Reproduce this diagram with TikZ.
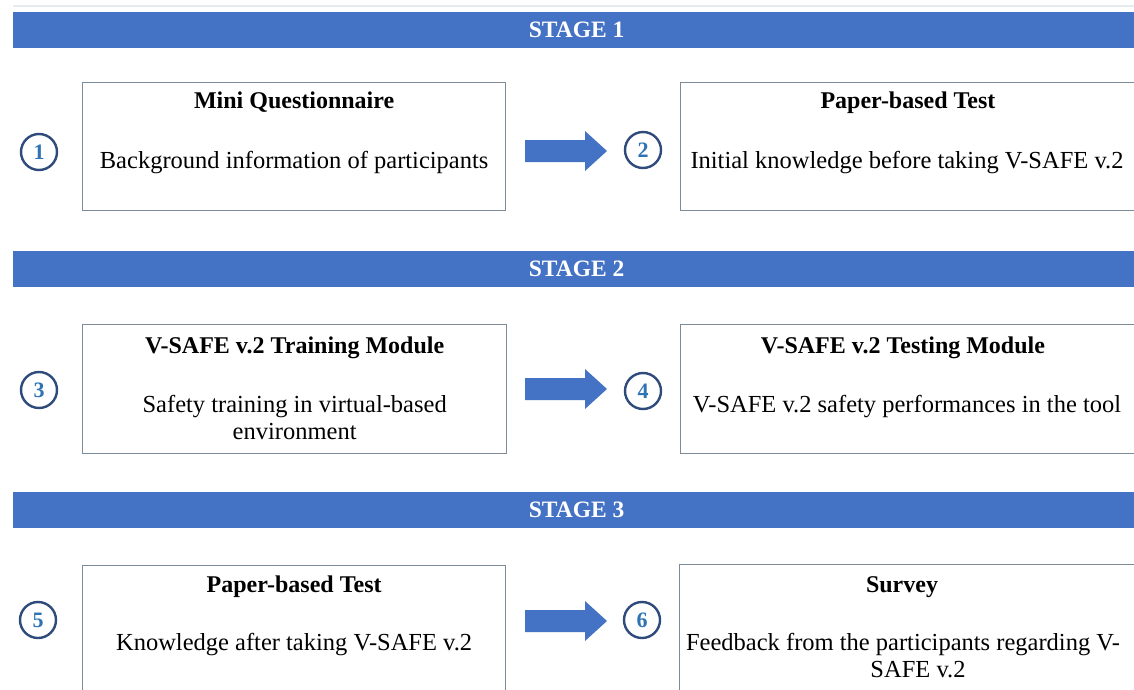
\documentclass[tikz,border=0pt]{standalone}
\usepackage{fontspec}
\setmainfont{Liberation Serif}
\newfontfamily\timesface{Liberation Serif}
\usetikzlibrary{calc}
\definecolor{barblue}{HTML}{4472C4}
\definecolor{boxline}{HTML}{7D8B99}
\definecolor{ringline}{HTML}{2F4B7C}
\definecolor{numblue}{HTML}{2E74B5}
\definecolor{hairline}{HTML}{E4ECF0}
\begin{document}
\begin{tikzpicture}[x=1pt,y=-1pt,
  txt/.style={font=\timesface\fontsize{24.5}{27}\selectfont, inner sep=0pt, align=center},
  headtxt/.style={txt, font=\timesface\fontsize{24}{27}\selectfont\bfseries, anchor=base},
  bodytxt/.style={txt, anchor=base},
  stagebar/.style={fill=barblue, draw=none, anchor=west, minimum width=1127pt,
    minimum height=36pt, inner sep=0pt, text=white,
    font=\timesface\fontsize{23.5}{27}\selectfont\bfseries},
  stepbox/.style={draw=boxline, line width=1.3pt, fill=white, anchor=north west, inner sep=0pt},
  numring/.style={circle, draw=ringline, line width=2.4pt, fill=white,
    minimum size=36pt, inner sep=0pt, text=numblue,
    font=\timesface\fontsize{22}{22}\selectfont\bfseries},
  blockarrow/.pic={\fill[barblue] (0,-11) -- (60,-11) -- (60,-20) -- (82,0)
    -- (60,20) -- (60,11) -- (0,11) -- cycle;}
]
\useasboundingbox (0,0) rectangle (1134,690);
\clip (0,0) rectangle (1134,690);
\fill[white] (0,0) rectangle (1134,690);
\draw[hairline, line width=1.5pt] (13,6) -- (1134,6);

% stage headers
\node[stagebar] (s1) at (13,30) {STAGE 1};
\node[stagebar] (s2) at (13,269) {STAGE 2};
\node[stagebar] (s3) at (13,510) {STAGE 3};

% stage 1
\node[stepbox, minimum width=423pt, minimum height=128pt] (b1) at (82,82) {};
\node[stepbox, minimum width=460pt, minimum height=128pt] (b2) at (680,82) {};
\node[headtxt] (t1) at ($(b1.north)+(0,27)$) {Mini Questionnaire};
\node[bodytxt] (d1) at ($(b1.north)+(0,86)$) {Background information of participants};
\node[headtxt] (t2) at (908,109) {Paper-based Test};
\node[bodytxt] (d2) at (907,168) {Initial knowledge before taking V-SAFE v.2};
\node[numring] (n1) at (39,152) {1};
\node[numring] (n2) at (643,150) {2};
\pic at (525,151) {blockarrow};

% stage 2 (two-line texts are anchored on their last baseline)
\node[stepbox, minimum width=424pt, minimum height=129pt] (b3) at (82,324) {};
\node[stepbox, minimum width=460pt, minimum height=129pt] (b4) at (680,324) {};
\node[headtxt] (t3) at ($(b3.north)+(0,29)$) {V-SAFE v.2 Training Module};
\node[bodytxt] (d3) at ($(b3.north)+(0,115)$) {Safety training in virtual-based\\environment};
\node[headtxt] (t4) at (903,353) {V-SAFE v.2 Testing Module};
\node[bodytxt] (d4) at (907,412) {V-SAFE v.2 safety performances in the tool};
\node[numring] (n3) at (39,390) {3};
\node[numring] (n4) at (643,391) {4};
\pic at (525,389) {blockarrow};

% stage 3
\node[stepbox, minimum width=423pt, minimum height=150pt] (b5) at (82,565) {};
\node[stepbox, minimum width=461pt, minimum height=150pt] (b6) at (679,564) {};
\node[headtxt] (t5) at ($(b5.north)+(0,27)$) {Paper-based Test};
\node[bodytxt] (d5) at ($(b5.north)+(0,85)$) {Knowledge after taking V-SAFE v.2};
\node[headtxt] (t6) at (902,592) {Survey};
\node[bodytxt] (d6a) at (903,650) {Feedback from the participants regarding V-};
\node[bodytxt] (d6b) at (918,677) {SAFE v.2};
\node[numring] (n5) at (38,620) {5};
\node[numring] (n6) at (642,620) {6};
\pic at (525,621) {blockarrow};
\end{tikzpicture}
\end{document}
